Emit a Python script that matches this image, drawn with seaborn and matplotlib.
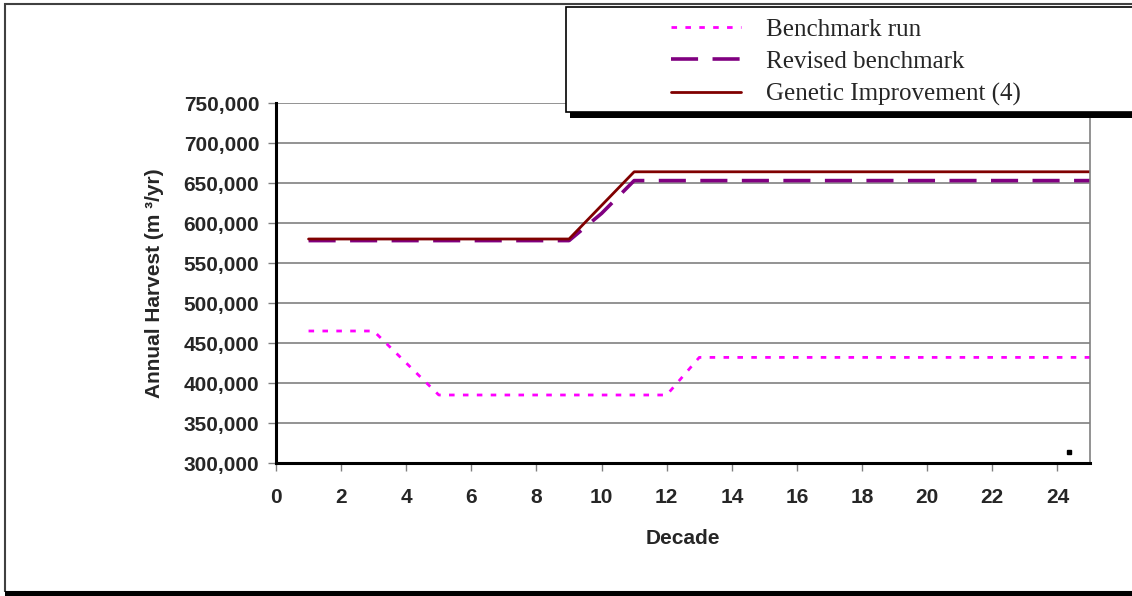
import matplotlib
matplotlib.use("Agg")
import matplotlib.pyplot as plt
from matplotlib.patches import Rectangle
from matplotlib.ticker import FuncFormatter
import seaborn as sns
import pandas as pd

decades = list(range(1, 26))
benchmark_run = [465000, 465000, 465000, 425000, 385000, 385000, 385000, 385000,
                 385000, 385000, 385000, 385000, 432000] + [432000] * 12
revised_benchmark = [578000] * 9 + [612000, 653000] + [653000] * 14
genetic_improvement = [580000] * 9 + [622000, 664000] + [664000] * 14

series_names = ["Benchmark run", "Revised benchmark", "Genetic Improvement (4)"]
series_values = [benchmark_run, revised_benchmark, genetic_improvement]
series_colors = ["#ff00ff", "#800080", "#800000"]
series_dashes = [(2.0, 3.0), (7.5, 4), None]
series_widths = [2.0, 2.6, 2.0]

sns.set_theme(style="white")
plt.rcParams["font.family"] = ["Liberation Sans", "DejaVu Sans"]

fig = plt.figure(figsize=(11.32, 5.96), dpi=100)
ax = fig.add_axes([276 / 1132, 1 - 463 / 596, (1090 - 276) / 1132, (463 - 103) / 596])

for name, vals, col, dash, lw in zip(series_names, series_values, series_colors,
                                     series_dashes, series_widths):
    df = pd.DataFrame({"Decade": decades, "Harvest": vals})
    sns.lineplot(data=df, x="Decade", y="Harvest", ax=ax, color=col,
                 linewidth=lw, label=name, legend=False)
    if dash is not None:
        ax.lines[-1].set_dashes(dash)

ax.set_xlim(0, 25)
ax.set_ylim(300000, 750000)
ax.set_xticks(range(0, 25, 2))
ax.set_yticks(range(300000, 750001, 50000))
ax.yaxis.set_major_formatter(FuncFormatter(lambda v, p: f"{int(v):,}"))
ax.grid(axis="y", color="#808080", linewidth=1.2)
ax.set_axisbelow(True)

for lab in ax.get_xticklabels() + ax.get_yticklabels():
    lab.set_fontweight("bold")
    lab.set_fontsize(15)
ax.tick_params(axis="both", direction="out", length=6, width=1, color="#808080",
               left=True, bottom=True)
ax.tick_params(axis="y", pad=6)
ax.tick_params(axis="x", pad=12)

ax.spines["left"].set_color("black")
ax.spines["left"].set_linewidth(2.2)
ax.spines["bottom"].set_color("black")
ax.spines["bottom"].set_linewidth(2.2)
ax.spines["right"].set_color("#808080")
ax.spines["right"].set_linewidth(1.2)
ax.spines["top"].set_visible(False)

ax.set_xlabel("Decade", fontsize=15, fontweight="bold", labelpad=16)
ax.set_ylabel("Annual Harvest (m ³/yr)", fontsize=15, fontweight="bold", labelpad=14)

# small stray marker near the bottom right of the plot area
ax.plot([24.35], [314000], marker="s", color="black", markersize=3, linestyle="none")

# outer chart frame with drop shadow along the bottom
fig.patches.append(Rectangle((5 / 1132, 4 / 596), 1.2, 1 - 8 / 596,
                             transform=fig.transFigure, fill=False,
                             edgecolor="#404040", linewidth=1.5))
fig.patches.append(Rectangle((5 / 1132, 0), 1.2, 5 / 596,
                             transform=fig.transFigure, facecolor="black",
                             edgecolor="none"))

# legend box with shadow
fig.patches.append(Rectangle((570 / 1132, 1 - 118 / 596), 1.0, 7 / 596,
                             transform=fig.transFigure, facecolor="black",
                             edgecolor="none", zorder=2))
fig.patches.append(Rectangle((566 / 1132, 1 - 112 / 596), 1.0, 105 / 596,
                             transform=fig.transFigure, facecolor="white",
                             edgecolor="black", linewidth=1.2, zorder=3))

handles, labels = ax.get_legend_handles_labels()
leg = fig.legend(handles, labels, loc="upper left",
                 bbox_to_anchor=(656 / 1132, 1 - 3 / 596),
                 frameon=False, prop={"family": "Liberation Serif", "size": 18},
                 borderpad=0.1, handlelength=2.8, handletextpad=1.0,
                 labelspacing=0.40)
leg.set_zorder(4)

fig.savefig("out.png", dpi=100)
